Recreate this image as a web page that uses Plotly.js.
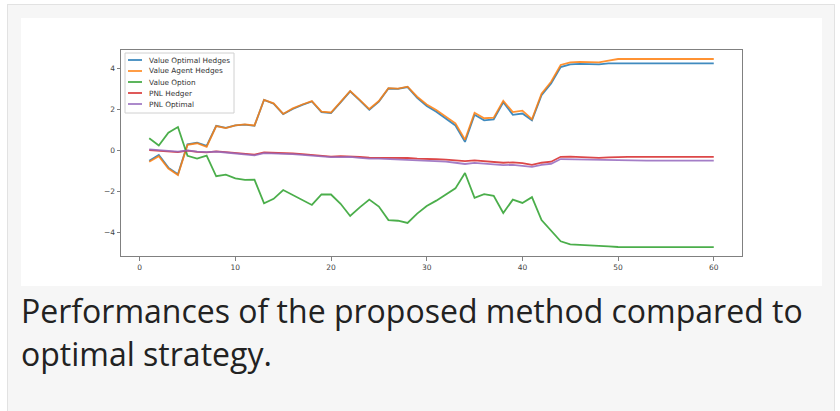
<!DOCTYPE html>
<html>
<head>
<meta charset="utf-8">
<script src="https://cdn.plot.ly/plotly-3.0.1.min.js"></script>
<style>
  html, body { margin:0; padding:0; background:#ffffff; }
  #outer { position:absolute; left:7px; top:4px; width:826px; height:420px;
           background:#f6f6f6; border:1px solid #e2e2e2; }
  #card { position:absolute; left:13px; top:13px; width:801px; height:268px; background:#ffffff; }
  #caption { position:absolute; left:13px; top:284px; width:805px;
             font-family:"Open Sans", sans-serif; font-size:32px; line-height:43px; color:#222; }
</style>
</head>
<body>
<div id="outer">
  <div id="card"></div>
  <div id="caption">Performances of the proposed method compared to optimal strategy.</div>
</div>
<script>
const steps = [1,2,3,4,5,6,7,8,9,10,11,12,13,14,15,16,17,18,19,20,
               21,22,23,24,25,26,27,28,29,30,31,32,33,34,35,36,37,38,39,40,
               41,42,43,44,45,46,47,48,49,50,51,52,53,54,55,56,57,58,59,60];

const valueOptimalHedges = [-0.52,-0.24,-0.86,-1.18,0.28,0.36,0.20,1.18,1.08,1.20,
  1.24,1.18,2.45,2.26,1.75,2.00,2.20,2.37,1.85,1.80,
  2.32,2.86,2.42,1.96,2.36,3.00,2.98,3.07,2.55,2.15,
  1.87,1.55,1.20,0.40,1.72,1.45,1.50,2.33,1.72,1.78,
  1.45,2.68,3.25,4.05,4.18,4.20,4.20,4.18,4.23,4.23,
  4.23,4.23,4.23,4.23,4.23,4.23,4.23,4.23,4.23,4.23];

const valueAgentHedges = [-0.57,-0.30,-0.90,-1.22,0.25,0.33,0.16,1.17,1.07,1.20,
  1.25,1.20,2.45,2.28,1.76,2.03,2.22,2.39,1.87,1.83,
  2.35,2.88,2.45,2.00,2.39,3.02,3.00,3.09,2.60,2.22,
  1.95,1.63,1.30,0.50,1.82,1.55,1.58,2.40,1.85,1.92,
  1.50,2.75,3.33,4.15,4.28,4.30,4.30,4.28,4.36,4.44,
  4.44,4.44,4.44,4.44,4.44,4.44,4.44,4.44,4.44,4.44];

const valueOption = [0.57,0.22,0.85,1.12,-0.28,-0.42,-0.27,-1.28,-1.20,-1.38,
  -1.46,-1.45,-2.60,-2.38,-1.95,-2.20,-2.43,-2.68,-2.17,-2.17,
  -2.62,-3.22,-2.80,-2.42,-2.76,-3.42,-3.45,-3.56,-3.10,-2.73,
  -2.47,-2.15,-1.87,-1.12,-2.33,-2.15,-2.23,-3.07,-2.42,-2.58,
  -2.30,-3.42,-3.93,-4.45,-4.60,-4.62,-4.65,-4.65,-4.70,-4.73,
  -4.74,-4.74,-4.74,-4.74,-4.74,-4.74,-4.74,-4.74,-4.74,-4.74];

const pnlHedger = [0.00,-0.03,-0.06,-0.10,-0.03,-0.09,-0.11,-0.07,-0.10,-0.14,
  -0.18,-0.22,-0.12,-0.13,-0.16,-0.17,-0.20,-0.25,-0.28,-0.32,
  -0.30,-0.30,-0.33,-0.37,-0.37,-0.38,-0.40,-0.39,-0.42,-0.42,
  -0.45,-0.47,-0.50,-0.54,-0.50,-0.55,-0.60,-0.62,-0.60,-0.64,
  -0.72,-0.62,-0.57,-0.33,-0.32,-0.34,-0.36,-0.38,-0.36,-0.33,
  -0.33,-0.33,-0.33,-0.33,-0.33,-0.33,-0.33,-0.33,-0.33,-0.33];

const pnlOptimal = [0.03,0.00,-0.04,-0.08,-0.02,-0.08,-0.10,-0.08,-0.12,-0.16,
  -0.20,-0.26,-0.15,-0.16,-0.19,-0.20,-0.24,-0.28,-0.32,-0.35,
  -0.35,-0.33,-0.38,-0.42,-0.42,-0.44,-0.45,-0.46,-0.50,-0.52,
  -0.55,-0.57,-0.62,-0.68,-0.63,-0.67,-0.72,-0.74,-0.72,-0.76,
  -0.82,-0.72,-0.67,-0.44,-0.45,-0.46,-0.48,-0.50,-0.50,-0.52,
  -0.52,-0.52,-0.52,-0.52,-0.52,-0.52,-0.52,-0.52,-0.52,-0.52];

const seriesNames = ["Value Optimal Hedges","Value Agent Hedges","Value Option","PNL Hedger","PNL Optimal"];
const seriesColors = ["#1f77b4","#ff7f0e","#2ca02c","#d62728","#9467bd"];
const seriesValues = [valueOptimalHedges, valueAgentHedges, valueOption, pnlHedger, pnlOptimal];

const xTicks = [0,10,20,30,40,50,60];
const yTicks = [-4,-2,0,2,4];

const traces = seriesValues.map((vals, i) => ({
  type: "scatter", mode: "lines", x: steps, y: vals, name: seriesNames[i],
  line: { color: seriesColors[i], width: 1.8 }, opacity: 0.85,
  showlegend: false, hoverinfo: "skip"
}));

// custom matplotlib-like legend (pixel layout -> paper coords)
const W = 801, H = 268, L = 100, R = 80, T = 32, B = 30;
const pw = W - L - R, ph = H - T - B;
const px = v => (v - 121) / pw;       // window px -> paper x
const py = v => (256 - v) / ph;       // window px -> paper y
const shapes = [{
  type: "rect", xref: "paper", yref: "paper",
  x0: px(125), x1: px(234), y0: py(113), y1: py(53),
  line: { color: "#d0d0d0", width: 1 }, fillcolor: "rgba(255,255,255,0.85)", layer: "above"
}];
const annotations = [];
const rowY = [60, 71, 82, 93, 104];
seriesNames.forEach((n, i) => {
  shapes.push({ type: "line", xref: "paper", yref: "paper",
    x0: px(128), x1: px(142), y0: py(rowY[i]), y1: py(rowY[i]),
    line: { color: seriesColors[i], width: 1.8 }, opacity: 0.85, layer: "above" });
  annotations.push({ xref: "paper", yref: "paper", x: px(147), y: py(rowY[i]),
    xanchor: "left", yanchor: "middle", showarrow: false, text: n,
    font: { family: "DejaVu Sans", size: 7.3, color: "#333" } });
});

const axisCommon = {
  showgrid: false, zeroline: false, showline: true, mirror: true,
  linecolor: "#808080", linewidth: 1, ticks: "outside", ticklen: 3.5,
  tickcolor: "#808080", tickwidth: 1,
  tickfont: { family: "DejaVu Sans", size: 7.5, color: "#444" }
};

const layout = {
  width: W, height: H, margin: { l: L, r: R, t: T, b: B },
  paper_bgcolor: "#ffffff", plot_bgcolor: "#ffffff",
  xaxis: Object.assign({}, axisCommon, { range: [-1.95, 62.95], tickmode: "array", tickvals: xTicks }),
  yaxis: Object.assign({}, axisCommon, { range: [-5.17, 4.88], tickmode: "array", tickvals: yTicks }),
  shapes: shapes, annotations: annotations, showlegend: false
};

Plotly.newPlot("card", traces, layout, { staticPlot: true, displayModeBar: false });
</script>
</body>
</html>
